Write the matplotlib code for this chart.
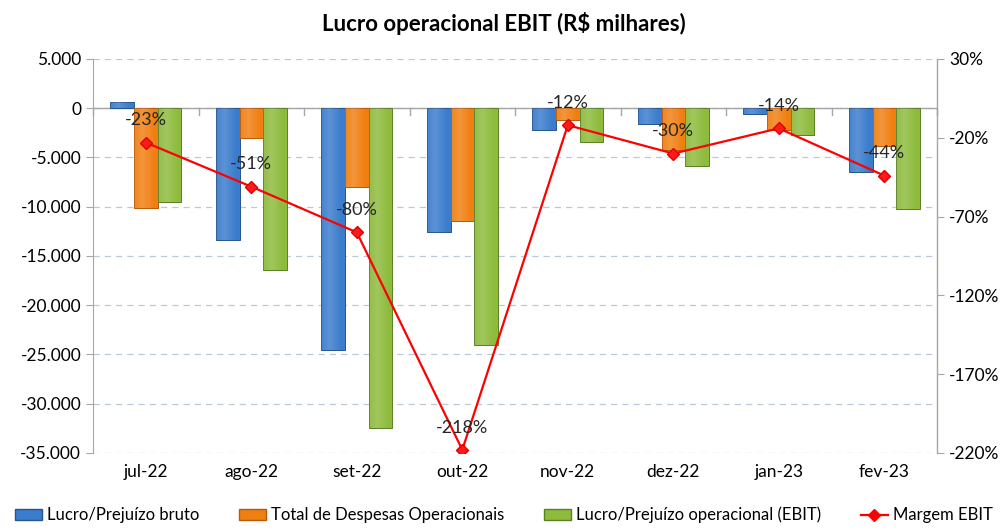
import numpy as np
import matplotlib
matplotlib.use("Agg")
import matplotlib.pyplot as plt
from matplotlib.ticker import FuncFormatter, FixedLocator
from matplotlib.patches import Patch
from matplotlib.lines import Line2D

plt.rcParams['font.family'] = ['Lato', 'DejaVu Sans']

meses = ['jul-22', 'ago-22', 'set-22', 'out-22', 'nov-22', 'dez-22', 'jan-23', 'fev-23']
lucro_bruto = [600, -13400, -24500, -12550, -2250, -1650, -550, -6450]
despesas = [-10150, -3000, -8000, -11450, -1150, -4250, -2200, -3800]
ebit = [-9550, -16400, -32500, -24000, -3400, -5900, -2750, -10250]
margem = [-23, -51, -80, -218, -12, -30, -14, -44]

cores = {'blue': ('#3b7ccc', '#24558f'), 'orange': ('#f07f12', '#b85a08'),
         'green': ('#8dbb3c', '#5b7f25')}

fig = plt.figure(figsize=(10.08, 5.31), dpi=100)
ax = fig.add_axes([0.0923, 0.1469, 0.8373, 0.742])
ax2 = ax.twinx()

x = np.arange(len(meses))
w = 0.223


def gradient_bars(vals, offset, key):
    light, dark = cores[key]
    bars = ax.bar(x + offset, vals, w, color=light, edgecolor=dark, linewidth=0.7, zorder=3)
    grad = np.linspace(0, 1, 64)
    prof = 0.55 - 0.45 * np.abs(grad - 0.35) / 0.65
    img = np.zeros((1, 64, 4))
    img[..., :3] = 1.0
    img[..., 3] = np.clip(prof - 0.2, 0, 1) * 0.5
    for b in bars:
        x0, y0 = b.get_x(), b.get_y()
        x1, y1 = x0 + b.get_width(), y0 + b.get_height()
        im = ax.imshow(img, extent=[x0, x1, min(y0, y1), max(y0, y1)],
                       aspect='auto', zorder=4, interpolation='bicubic')
        im.set_clip_path(b)
    return bars


gradient_bars(lucro_bruto, -w, 'blue')
gradient_bars(despesas, 0, 'orange')
gradient_bars(ebit, w, 'green')

ax.set_xlim(-0.5, len(meses) - 0.5)
ax.set_ylim(-35000, 5000)
ax.yaxis.set_major_locator(FixedLocator(np.arange(-35000, 5001, 5000)))
ax.yaxis.set_major_formatter(FuncFormatter(lambda v, p: f'{int(v):,}'.replace(',', '.')))
ax.grid(axis='y', color='#b9c9dc', linestyle=(0, (5, 4)), linewidth=0.9, zorder=0)
ax.set_axisbelow(True)
ax.axhline(0, color='#a6a6a6', linewidth=1, zorder=2)
for b in np.arange(-0.5, len(meses), 1.0):
    ax.plot([b, b], [0, -650], color='#a6a6a6', linewidth=1, zorder=2, clip_on=False)

ax.set_xticks(x)
ax.set_xticklabels(meses)
ax.tick_params(axis='x', length=0, pad=8, labelsize=12.5)
ax.tick_params(axis='y', labelsize=12.5, color='#a6a6a6', length=5)
for s in ['top', 'bottom']:
    ax.spines[s].set_visible(False)
    ax2.spines[s].set_visible(False)
ax.spines['left'].set_color('#a6a6a6')
ax2.spines['left'].set_visible(False)
ax2.spines['right'].set_color('#a6a6a6')

ax2.plot(x, margem, color='#ff0000', linewidth=1.6, marker='D', markersize=6,
         markerfacecolor='#ff1a1a', markeredgecolor='#e00000', zorder=5)
ax2.set_ylim(-220, 30)
ax2.set_yticks(np.arange(-220, 31, 50))
ax2.yaxis.set_major_formatter(FuncFormatter(lambda v, p: f'{int(v)}%'))
ax2.tick_params(axis='y', labelsize=12.5, color='#a6a6a6', length=5)
for xi, m in zip(x, margem):
    ax2.annotate(f'{m}%', (xi, m), xytext=(0, 16), textcoords='offset points',
                 ha='center', va='center', fontsize=13, color='#262626', zorder=6)

fig.suptitle('Lucro operacional EBIT (R$ milhares)', x=0.5, y=0.978,
             fontsize=16, fontweight='bold')

handles = [Patch(facecolor=cores['blue'][0], edgecolor=cores['blue'][1]),
           Patch(facecolor=cores['orange'][0], edgecolor=cores['orange'][1]),
           Patch(facecolor=cores['green'][0], edgecolor=cores['green'][1]),
           Line2D([], [], color='#ff0000', marker='D', markersize=6, linewidth=1.6)]
labels = ['Lucro/Prejuízo bruto', 'Total de Despesas Operacionais',
          'Lucro/Prejuízo operacional (EBIT)', 'Margem EBIT']
fig.legend(handles, labels, loc='lower center', bbox_to_anchor=(0.5, -0.014), ncol=4,
           frameon=False, fontsize=12, handlelength=1.6, handletextpad=0.3,
           columnspacing=2.4)

fig.savefig('out.png', dpi=100)
